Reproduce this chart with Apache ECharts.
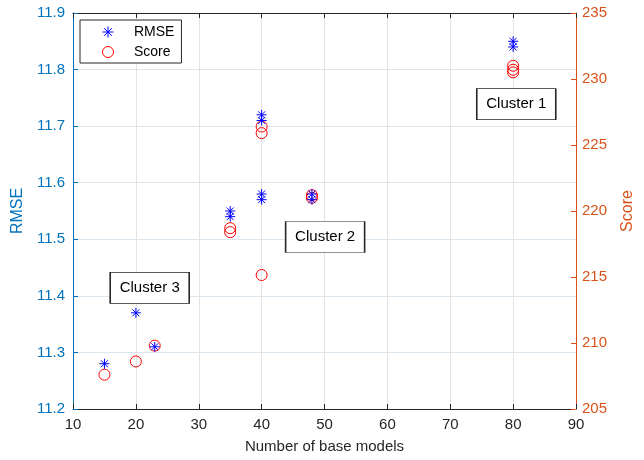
<!DOCTYPE html>
<html>
<head>
<meta charset="utf-8">
<script src="https://cdn.jsdelivr.net/npm/echarts@6/dist/echarts.min.js"></script>
<style>html,body{margin:0;padding:0;background:#fff}#c{width:644px;height:460px}</style>
</head>
<body>
<div id="c"></div>
<script>
var xTicks = [10, 20, 30, 40, 50, 60, 70, 80, 90];
var rmseX = [15, 20, 23, 35, 35, 40, 40, 40, 40, 48, 48, 80, 80];
var rmseVals = [11.28, 11.37, 11.31, 11.55, 11.54, 11.72, 11.71, 11.58, 11.57, 11.58, 11.57, 11.85, 11.84];
var scoreX = [15, 20, 23, 35, 35, 40, 40, 40, 48, 48, 80, 80, 80];
var scoreVals = [207.6, 208.6, 209.8, 218.7, 218.4, 226.4, 225.9, 215.15, 221.2, 221.0, 231.0, 230.7, 230.5];
var clusterNames = ['Cluster 1', 'Cluster 2', 'Cluster 3'];

var FONT = 'Liberation Sans';
var asterisk = 'path://M5,0L5,10M0,5L10,5M1.5,1.5L8.5,8.5M8.5,1.5L1.5,8.5';

function pairs(xs, ys) { return xs.map(function (x, i) { return [x, ys[i]]; }); }

var chart = echarts.init(document.getElementById('c'));
chart.setOption({
  animation: false,
  backgroundColor: '#fff',
  textStyle: { fontFamily: FONT },
  grid: { left: 73, right: 68, top: 13, bottom: 51 },
  legend: {
    orient: 'vertical', left: 80, top: 20,
    padding: [5, 7, 4, 22], itemGap: 6,
    itemWidth: 42, itemHeight: 11,
    borderColor: '#262626', borderWidth: 1, backgroundColor: '#fff',
    itemStyle: { borderWidth: 1 },
    textStyle: { fontFamily: FONT, fontSize: 14, color: '#000' },
    data: ['RMSE', 'Score']
  },
  xAxis: [{
    type: 'value', min: 10, max: 90, interval: 10,
    name: 'Number of base models', nameLocation: 'middle', nameGap: 30,
    nameTextStyle: { fontFamily: FONT, fontSize: 15, color: '#262626' },
    axisLine: { show: true, lineStyle: { color: '#262626', width: 1 } },
    axisTick: { show: true, inside: true, length: 5, lineStyle: { color: '#262626' } },
    axisLabel: { fontFamily: FONT, fontSize: 15, color: '#262626', margin: 8,
      customValues: xTicks },
    splitLine: { show: true, lineStyle: { color: '#e3e3e3', width: 1 } }
  }, {
    type: 'value', min: 10, max: 90, interval: 10, position: 'top',
    axisLine: { show: true, onZero: false, lineStyle: { color: '#262626', width: 1 } },
    axisTick: { show: true, inside: true, length: 5, lineStyle: { color: '#262626' } },
    axisLabel: { show: false }, splitLine: { show: false }
  }],
  yAxis: [{
    type: 'value', min: 11.2, max: 11.9, interval: 0.1, position: 'left',
    name: 'RMSE', nameLocation: 'middle', nameGap: 42,
    nameTextStyle: { fontFamily: FONT, fontSize: 16, color: '#0072BD' },
    axisLine: { show: true, lineStyle: { color: '#0072BD', width: 1 } },
    axisTick: { show: true, inside: true, length: 5, lineStyle: { color: '#0072BD' } },
    axisLabel: { fontFamily: FONT, fontSize: 15, color: '#0072BD', margin: 8,
      formatter: function (v) { return v.toFixed(1); } },
    splitLine: { show: true, lineStyle: { color: '#dbe6ef', width: 1 } }
  }, {
    type: 'value', min: 205, max: 235, interval: 5, position: 'right',
    name: 'Score', nameLocation: 'middle', nameGap: 44,
    nameTextStyle: { fontFamily: FONT, fontSize: 16, color: '#D95319' },
    axisLine: { show: true, lineStyle: { color: '#D95319', width: 1 } },
    axisTick: { show: true, inside: true, length: 5, lineStyle: { color: '#D95319' } },
    axisLabel: { fontFamily: FONT, fontSize: 15, color: '#D95319', margin: 6 },
    splitLine: { show: false }
  }],
  series: [{
    name: 'Score', type: 'scatter', xAxisIndex: 0, yAxisIndex: 1, z: 2,
    symbol: 'circle', symbolSize: 11,
    itemStyle: { color: 'rgba(0,0,0,0)', borderColor: '#FF0000', borderWidth: 1, opacity: 1 },
    data: pairs(scoreX, scoreVals)
  }, {
    name: 'RMSE', type: 'scatter', xAxisIndex: 0, yAxisIndex: 0, z: 3,
    symbol: asterisk, symbolSize: 10,
    itemStyle: { color: '#0000FF', borderColor: '#0000FF', borderWidth: 1, opacity: 1 },
    data: pairs(rmseX, rmseVals),
    markPoint: {
      symbol: 'rect', symbolSize: [79, 31], z: 5,
      itemStyle: { color: '#fff', borderColor: '#262626', borderWidth: 1 },
      label: { show: true, position: 'inside', fontFamily: FONT, fontSize: 15, color: '#000',
        formatter: function (p) { return p.name; } },
      data: [
        { name: clusterNames[0], coord: [80.5, 11.739] },
        { name: clusterNames[1], coord: [50.1, 11.504] },
        { name: clusterNames[2], coord: [22.2, 11.414] }
      ]
    }
  }]
});
</script>
</body>
</html>
